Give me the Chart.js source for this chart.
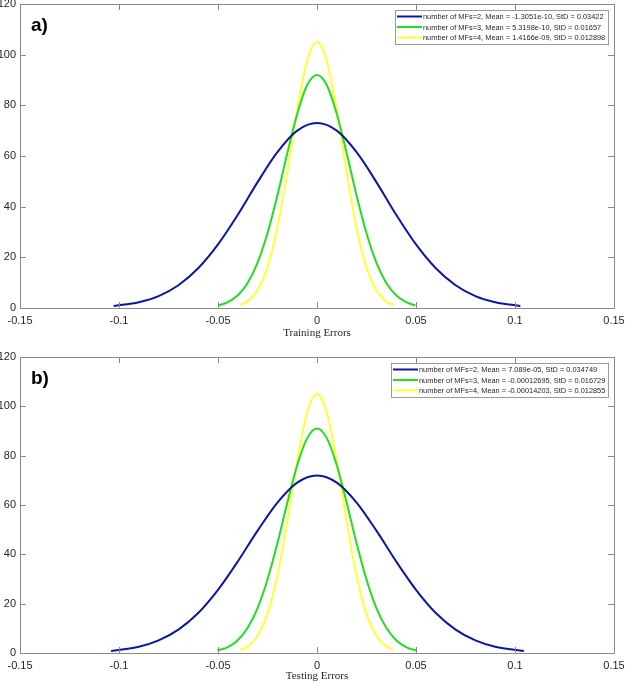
<!DOCTYPE html>
<html>
<head>
<meta charset="utf-8">
<script src="https://cdn.jsdelivr.net/npm/chart.js@4.4.1/dist/chart.umd.min.js"></script>
<style>
  html, body { margin: 0; padding: 0; background: #ffffff; }
  #wrap { width: 625px; height: 682px; position: relative; }
  canvas { display: block; position: absolute; left: 0; }
</style>
</head>
<body>
<div id="wrap">
  <canvas id="cA" width="625" height="341" style="top:0px"></canvas>
  <canvas id="cB" width="625" height="341" style="top:341px"></canvas>
</div>
<script>
// ---------------- data ----------------
const xTickLabels = ['-0.15', '-0.1', '-0.05', '0', '0.05', '0.1', '0.15'];
const yTickLabels = ['0', '20', '40', '60', '80', '100', '120'];

const trainLabels = [
  'number of MFs=2, Mean = -1.3051e-10, StD = 0.03422',
  'number of MFs=3, Mean = 5.3198e-10, StD = 0.01657',
  'number of MFs=4, Mean = 1.4166e-09, StD = 0.012898'
];
const testLabels = [
  'number of MFs=2, Mean = 7.089e-05, StD = 0.034749',
  'number of MFs=3, Mean = -0.00012695, StD = 0.016729',
  'number of MFs=4, Mean = -0.00014203, StD = 0.012855'
];

// Panel a) Training errors
const trainBlueX = [-0.1027, -0.09, -0.08, -0.07, -0.06, -0.05, -0.04, -0.03, -0.02, -0.01, 0, 0.01, 0.02, 0.03, 0.04, 0.05, 0.06, 0.07, 0.08, 0.09, 0.1027];
const trainBlueY = [0.8, 2.3, 4.7, 9.0, 15.7, 25.1, 36.8, 49.7, 61.5, 70.0, 73, 70.0, 61.5, 49.7, 36.8, 25.1, 15.7, 9.0, 4.7, 2.3, 0.8];
const trainGreenX = [-0.0497, -0.045, -0.04, -0.035, -0.03, -0.025, -0.02, -0.015, -0.01, -0.005, 0, 0.005, 0.01, 0.015, 0.02, 0.025, 0.03, 0.035, 0.04, 0.045, 0.0497];
const trainGreenY = [1.0, 2.3, 5.0, 9.9, 17.9, 29.5, 44.4, 61.1, 76.6, 87.9, 92, 87.9, 76.6, 61.1, 44.4, 29.5, 17.9, 9.9, 5.0, 2.3, 1.0];
const trainYellowX = [-0.0387, -0.035, -0.03, -0.025, -0.02, -0.015, -0.01, -0.005, 0, 0.005, 0.01, 0.015, 0.02, 0.025, 0.03, 0.035, 0.0387];
const trainYellowY = [1.2, 2.6, 7.0, 16.0, 31.6, 53.4, 77.8, 97.4, 105, 97.4, 77.8, 53.4, 31.6, 16.0, 7.0, 2.6, 1.2];

// Panel b) Testing errors
const testBlueX = [-0.104, -0.09, -0.08, -0.07, -0.06, -0.05, -0.04, -0.03, -0.02, -0.01, 0, 0.01, 0.02, 0.03, 0.04, 0.05, 0.06, 0.07, 0.08, 0.09, 0.1045];
const testBlueY = [0.8, 2.5, 5.1, 9.5, 16.2, 25.6, 37.1, 49.6, 61.0, 69.1, 72, 69.1, 61.0, 49.6, 37.1, 25.6, 16.2, 9.5, 5.1, 2.5, 0.8];
const testGreenX = [-0.0503, -0.045, -0.04, -0.035, -0.03, -0.025, -0.02, -0.015, -0.01, -0.005, 0, 0.005, 0.01, 0.015, 0.02, 0.025, 0.03, 0.035, 0.04, 0.045, 0.050];
const testGreenY = [1.0, 2.4, 5.2, 10.2, 18.2, 29.8, 44.5, 60.9, 76.1, 87.0, 91, 87.0, 76.1, 60.9, 44.5, 29.8, 18.2, 10.2, 5.2, 2.4, 1.0];
const testYellowX = [-0.0389, -0.035, -0.03, -0.025, -0.02, -0.015, -0.01, -0.005, 0, 0.005, 0.01, 0.015, 0.02, 0.025, 0.03, 0.035, 0.0384];
const testYellowY = [1.15, 2.6, 6.9, 15.8, 31.3, 53.2, 77.6, 97.4, 105, 97.4, 77.6, 53.2, 31.3, 15.8, 6.9, 2.6, 1.15];

// ---------------- styling ----------------
const COLORS = ['#0a16a6', '#22dd22', '#ffff33'];
const AXIS_COLOR = '#8a8a8a';
const TEXT_COLOR = '#262626';

function pts(xs, ys) { return xs.map((x, i) => ({ x: x, y: ys[i] })); }

const framePlugin = {
  id: 'frame',
  afterDatasetsDraw(chart, args, opts) {
    const ctx = chart.ctx;
    const a = chart.chartArea;
    const xs = chart.scales.x, ys = chart.scales.y;
    const tl = 6;
    ctx.save();
    ctx.strokeStyle = AXIS_COLOR;
    ctx.lineWidth = 1;
    ctx.beginPath();
    ctx.rect(Math.round(a.left) + 0.5, Math.round(a.top) + 0.5, Math.round(a.right - a.left), Math.round(a.bottom - a.top));
    ctx.stroke();
    ctx.beginPath();
    xs.ticks.forEach(t => {
      const px = Math.round(xs.getPixelForValue(t.value)) + 0.5;
      ctx.moveTo(px, a.bottom); ctx.lineTo(px, a.bottom - tl);
      ctx.moveTo(px, a.top); ctx.lineTo(px, a.top + tl);
    });
    ys.ticks.forEach(t => {
      const py = Math.round(ys.getPixelForValue(t.value)) + 0.5;
      ctx.moveTo(a.left, py); ctx.lineTo(a.left + tl, py);
      ctx.moveTo(a.right, py); ctx.lineTo(a.right - tl, py);
    });
    ctx.stroke();

    // panel label
    ctx.fillStyle = '#000000';
    ctx.font = 'bold 19px "Liberation Sans", Arial, sans-serif';
    ctx.textBaseline = 'alphabetic';
    ctx.textAlign = 'left';
    ctx.fillText(opts.panel, a.left + 11, a.top + 27);

    // legend
    const ds = chart.data.datasets;
    ctx.font = '7.4px "Liberation Sans", Arial, sans-serif';
    let tw = 0;
    ds.forEach(d => { tw = Math.max(tw, ctx.measureText(d.label).width); });
    const boxRight = Math.round(a.right - 6);
    const boxW = Math.round(tw + 31);
    const boxLeft = boxRight - boxW;
    const boxTop = Math.round(a.top + 6);
    const boxH = 34;
    ctx.fillStyle = '#ffffff';
    ctx.fillRect(boxLeft, boxTop, boxW, boxH);
    ctx.strokeStyle = '#9a9a9a';
    ctx.lineWidth = 1;
    ctx.strokeRect(boxLeft + 0.5, boxTop + 0.5, boxW, boxH);
    ds.forEach((d, i) => {
      const cy = boxTop + 6.5 + i * 10.5;
      ctx.strokeStyle = d.borderColor;
      ctx.lineWidth = 2;
      ctx.beginPath();
      ctx.moveTo(boxLeft + 2, cy); ctx.lineTo(boxLeft + 27, cy);
      ctx.stroke();
      ctx.fillStyle = TEXT_COLOR;
      ctx.textBaseline = 'middle';
      ctx.fillText(d.label, boxLeft + 28, cy + 0.5);
    });
    ctx.restore();
  }
};

function makeChart(id, labels, series, xTitle, panel, padTop, xAxisH, titlePadBottom) {
  const datasets = series.map((s, i) => ({
    label: labels[i],
    data: pts(s[0], s[1]),
    borderColor: COLORS[i],
    backgroundColor: COLORS[i],
    borderWidth: 2,
    pointRadius: 0,
    fill: false,
    cubicInterpolationMode: 'monotone'
  }));
  return new Chart(document.getElementById(id), {
    type: 'line',
    data: { datasets: datasets },
    plugins: [framePlugin],
    options: {
      responsive: false,
      animation: false,
      events: [],
      layout: { padding: { top: padTop, right: 11, left: 0, bottom: 0 } },
      plugins: {
        legend: { display: false },
        tooltip: { enabled: false },
        frame: { panel: panel }
      },
      scales: {
        x: {
          type: 'linear',
          min: -0.15, max: 0.15,
          grid: { display: false, drawTicks: false },
          border: { display: false },
          afterFit: (s) => { s.height = xAxisH; s.paddingLeft = 0; s.paddingRight = 0; },
          afterBuildTicks: (s) => {
            s.ticks = xTickLabels.map(v => ({ value: parseFloat(v) }));
          },
          ticks: {
            autoSkip: false,
            maxRotation: 0,
            padding: 7.5,
            color: TEXT_COLOR,
            font: { family: '"Liberation Sans", Arial, sans-serif', size: 11, lineHeight: 1 },
            callback: (v, i) => xTickLabels[i]
          },
          title: {
            display: true,
            text: xTitle,
            color: TEXT_COLOR,
            padding: { top: 0, bottom: titlePadBottom },
            font: { family: '"Liberation Serif", "Times New Roman", serif', size: 11, lineHeight: 1 }
          }
        },
        y: {
          type: 'linear',
          min: 0, max: 120,
          grid: { display: false, drawTicks: false },
          border: { display: false },
          afterFit: (s) => { s.width = 20; s.paddingTop = 0; s.paddingBottom = 0; },
          afterBuildTicks: (s) => {
            s.ticks = yTickLabels.map(v => ({ value: parseFloat(v) }));
          },
          ticks: {
            padding: 4,
            color: TEXT_COLOR,
            font: { family: '"Liberation Sans", Arial, sans-serif', size: 11, lineHeight: 1 },
            callback: (v, i) => yTickLabels[i]
          }
        }
      }
    }
  });
}

makeChart('cA', trainLabels,
  [[trainBlueX, trainBlueY], [trainGreenX, trainGreenY], [trainYellowX, trainYellowY]],
  'Training Errors', 'a)', 4, 33, 2.5);
makeChart('cB', testLabels,
  [[testBlueX, testBlueY], [testGreenX, testGreenY], [testYellowX, testYellowY]],
  'Testing Errors', 'b)', 16, 29, 0);
</script>
</body>
</html>
